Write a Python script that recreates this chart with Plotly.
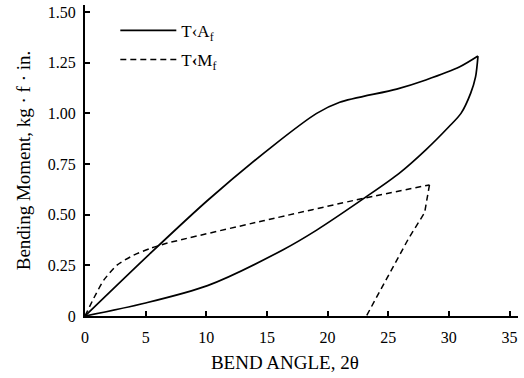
import plotly.graph_objects as go

# T < Af : loading branch
af_load_x = [0, 5.4, 10.1, 15.5, 19.1, 21.0, 25.7, 28.1, 30.9, 32.4]
af_load_y = [0, 0.31, 0.57, 0.84, 1.0, 1.055, 1.12, 1.165, 1.23, 1.283]
# T < Af : unloading branch
af_unload_x = [32.4, 32.2, 31.8, 31.0, 30.0, 28.1, 25.9, 23.2, 19.1, 16.3, 10.1, 4.9, 0]
af_unload_y = [1.283, 1.18, 1.10, 1.00, 0.934, 0.82, 0.704, 0.589, 0.424, 0.326, 0.15, 0.063, 0]

# T < Mf : loading and unloading
mf_load_x = [0, 0.74, 1.56, 2.66, 4.0, 5.4, 6.8, 14.7, 22.9, 28.4]
mf_load_y = [0, 0.09, 0.178, 0.252, 0.30, 0.334, 0.36, 0.47, 0.58, 0.647]
mf_unload_x = [28.4, 28.0, 26.7, 23.2]
mf_unload_y = [0.647, 0.51, 0.385, 0]

x_ticks = [0, 5, 10, 15, 20, 25, 30, 35]
y_ticks = [0, 0.25, 0.5, 0.75, 1.0, 1.25, 1.5]
y_tick_text = ["0", "0.25", "0.50", "0.75", "1.00", "1.25", "1.50"]

FONT = "Liberation Serif"
solid = dict(color="black", width=1.7, shape="spline", smoothing=0.8)
dashed = dict(color="black", width=1.5, dash="6px,4px")

fig = go.Figure()
fig.add_trace(go.Scatter(x=af_load_x, y=af_load_y, mode="lines", name="T‹A<sub>f</sub>",
                         legendgroup="a", line=solid))
fig.add_trace(go.Scatter(x=af_unload_x, y=af_unload_y, mode="lines", name="T‹A<sub>f</sub>",
                         legendgroup="a", showlegend=False, line=solid))
fig.add_trace(go.Scatter(x=mf_load_x, y=mf_load_y, mode="lines", name="T<b>‹</b>M<sub>f</sub>",
                         legendgroup="b", line=dict(dashed, shape="spline", smoothing=0.6)))
fig.add_trace(go.Scatter(x=mf_unload_x, y=mf_unload_y, mode="lines", name="T<b>‹</b>M<sub>f</sub>",
                         legendgroup="b", showlegend=False, line=dashed))

fig.update_layout(
    width=524, height=378,
    margin=dict(l=85, r=6, t=5, b=62),
    paper_bgcolor="white", plot_bgcolor="white",
    font=dict(family=FONT, size=16, color="black"),
    showlegend=True,
    legend=dict(x=0.07, y=0.975, xanchor="left", yanchor="top",
                bgcolor="rgba(0,0,0,0)", borderwidth=0,
                font=dict(family=FONT, size=17, color="black"),
                tracegroupgap=4, itemwidth=56),
    xaxis=dict(range=[0, 35.7], tickvals=x_ticks, ticks="inside", ticklen=5,
               tickwidth=1.5, tickcolor="black", showline=True, linecolor="black",
               linewidth=2, showgrid=False, zeroline=False,
               ticklabelstandoff=6,
               title=dict(text="BEND ANGLE, 2θ" + "&nbsp;" * 7,
                          font=dict(family=FONT, size=19), standoff=10)),
    yaxis=dict(range=[0, 1.535], tickvals=y_ticks, ticktext=y_tick_text, ticks="inside",
               ticklen=5, tickwidth=1.5, tickcolor="black", showline=True,
               linecolor="black", linewidth=2, showgrid=False, zeroline=False,
               ticklabelstandoff=4,
               title=dict(text="Bending Moment, kg · f · in.", font=dict(family=FONT, size=19),
                          standoff=12)),
)

fig.write_html("out.html")
